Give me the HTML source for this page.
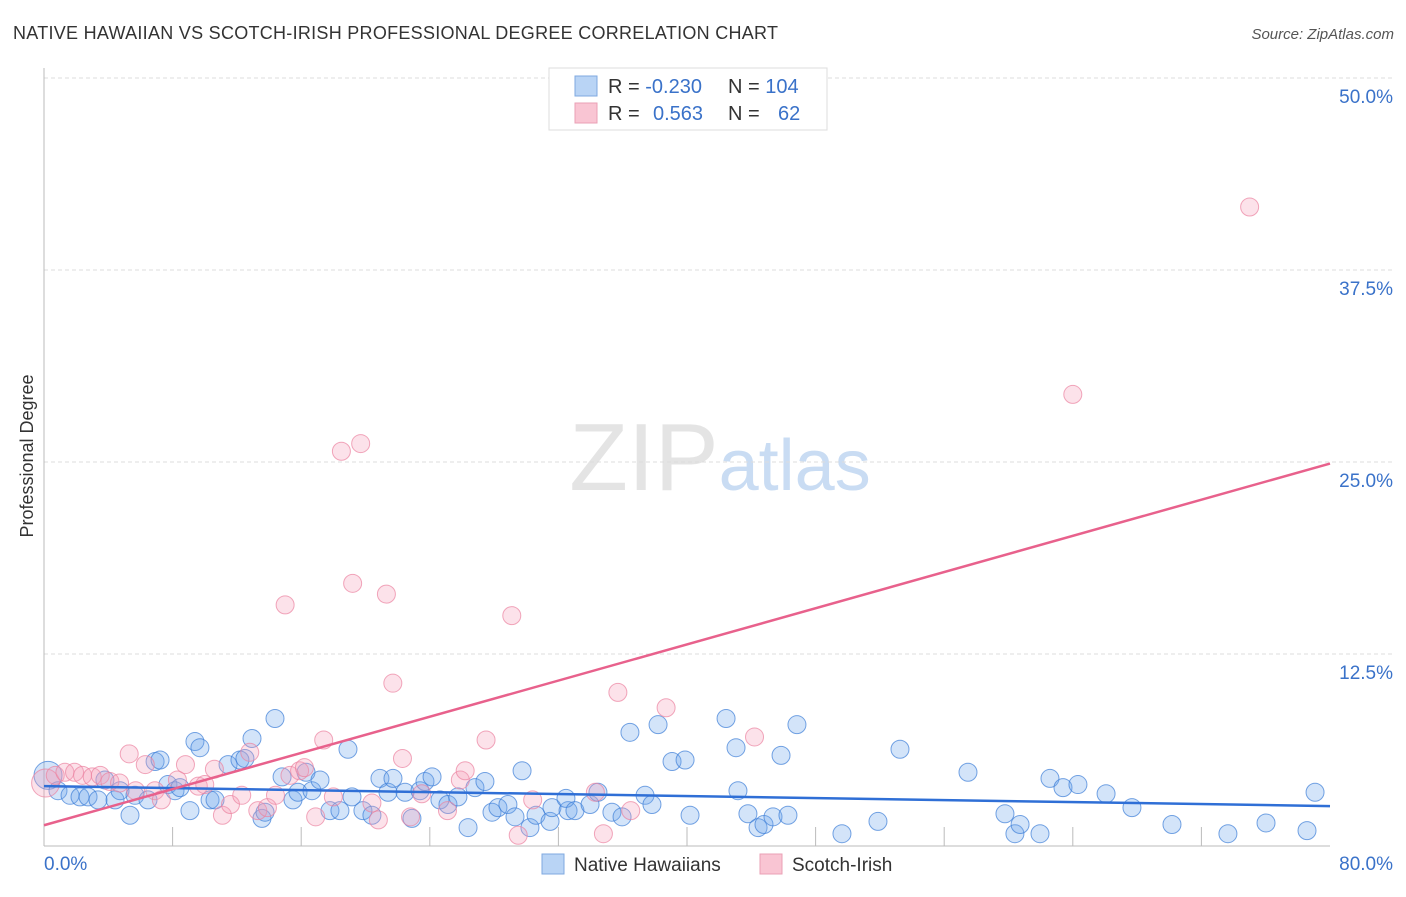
<!DOCTYPE html>
<html><head><meta charset="utf-8"><style>
body{margin:0;background:#fff;font-family:"Liberation Sans",sans-serif;}
svg text{font-family:"Liberation Sans",sans-serif;}
</style></head><body>
<svg id="chart" width="1406" height="892" xmlns="http://www.w3.org/2000/svg">
<text x="13" y="39" font-size="18" fill="#333" textLength="765">NATIVE HAWAIIAN VS SCOTCH-IRISH PROFESSIONAL DEGREE CORRELATION CHART</text>
<text x="1394" y="39" font-size="15" fill="#555" text-anchor="end" font-style="italic">Source: ZipAtlas.com</text>
<text x="720" y="490" font-size="96" text-anchor="middle" fill="#e4e4e4" font-family="Liberation Serif">ZIP<tspan fill="#c9dcf3" font-family="Liberation Sans" font-size="72">atlas</tspan></text>
<text transform="translate(33,456) rotate(-90)" font-size="18" fill="#333" text-anchor="middle">Professional Degree</text>
<g id="grid"></g><g id="marks"></g>
<g>
<rect x="549" y="68" width="278" height="62" fill="#fff" stroke="#ddd"/>
<rect x="575" y="76" width="22" height="20" fill="#b9d4f5" stroke="#7fa9e0"/>
<rect x="575" y="103" width="22" height="20" fill="#f9c5d3" stroke="#eaa0b6"/>
<text x="608" y="93" font-size="20" fill="#333">R = <tspan fill="#3a72c9">-0.230</tspan><tspan x="728">N = </tspan><tspan fill="#3a72c9">104</tspan></text>
<text x="608" y="120" font-size="20" fill="#333">R = <tspan x="653" fill="#3a72c9">0.563</tspan><tspan x="728">N = </tspan><tspan x="778" fill="#3a72c9">62</tspan></text>
</g>
<g>
<rect x="542" y="854" width="22" height="20" fill="#b9d4f5" stroke="#7fa9e0"/>
<text x="574" y="871" font-size="19" fill="#333">Native Hawaiians</text>
<rect x="760" y="854" width="22" height="20" fill="#f9c5d3" stroke="#eaa0b6"/>
<text x="792" y="871" font-size="19" fill="#333">Scotch-Irish</text>
</g>
</svg>
<script>
const yTicks=[12.5,25,37.5,50];
const yTickLabels=["12.5%","25.0%","37.5%","50.0%"];
const xTickLabels=["0.0%","80.0%"];
const blueX=[0.25,0.87,1.62,2.24,2.74,3.36,3.79,4.42,4.73,5.35,5.66,6.47,6.91,7.22,7.71,8.15,8.46,9.08,9.39,9.70,10.33,10.64,11.45,12.19,12.50,12.94,13.56,13.75,14.37,14.81,15.49,15.80,16.30,16.67,17.17,17.79,18.41,18.91,19.16,19.84,20.40,20.90,21.40,21.71,22.46,22.89,23.39,23.70,24.14,24.63,25.13,25.75,26.38,26.81,27.43,27.87,28.24,28.86,29.30,29.74,30.23,30.61,31.48,31.60,32.60,32.47,33.03,33.97,34.46,35.33,35.96,36.45,37.39,37.82,38.20,39.07,39.88,40.19,42.43,43.05,43.17,43.79,44.42,44.79,45.35,45.85,46.28,46.84,49.64,51.88,53.25,57.48,59.78,60.40,60.72,61.96,62.58,63.39,64.32,66.07,67.68,70.17,73.65,76.02,78.57,79.07];
const blueY=[4.6,3.6,3.3,3.2,3.2,3.0,4.3,3.0,3.6,2.0,3.3,3.0,5.5,5.6,4.0,3.6,3.8,2.3,6.8,6.4,3.0,3.0,5.3,5.6,5.7,7.0,1.8,2.2,8.3,4.5,3.0,3.5,4.8,3.6,4.3,2.3,2.3,6.3,3.2,2.3,2.0,4.4,3.5,4.4,3.5,1.8,3.6,4.2,4.5,3.0,2.7,3.2,1.2,3.8,4.2,2.2,2.5,2.7,1.9,4.9,1.2,2.0,1.6,2.5,2.3,3.1,2.3,2.7,3.5,2.2,1.9,7.4,3.3,2.7,7.9,5.5,5.6,2.0,8.3,6.4,3.6,2.1,1.2,1.4,1.9,5.9,2.0,7.9,0.8,1.6,6.3,4.8,2.1,0.8,1.4,0.8,4.4,3.8,4.0,3.4,2.5,1.4,0.8,1.5,1.0,3.5];
const pinkX=[0.1,0.7,1.3,1.9,2.4,3.0,3.5,4.1,4.7,5.3,5.7,6.3,6.9,7.3,8.3,8.8,9.6,10.0,10.6,11.1,11.6,12.3,12.8,13.3,13.9,14.4,15.0,15.3,15.9,16.2,16.9,17.4,18.0,18.5,19.2,19.7,20.4,20.8,21.3,21.7,22.3,22.8,23.5,25.1,25.9,26.2,27.5,29.1,29.5,30.4,34.3,34.8,35.7,36.5,38.7,44.2,64.0,75.0];
const pinkY=[4.1,4.6,4.8,4.8,4.6,4.5,4.6,4.2,4.1,6.0,3.6,5.3,3.6,3.0,4.3,5.3,3.9,4.0,5.0,2.0,2.7,3.3,6.1,2.3,2.5,3.3,15.7,4.6,4.9,5.1,1.9,6.9,3.2,25.7,17.1,26.2,2.8,1.7,16.4,10.6,5.7,1.9,3.4,2.3,4.3,4.9,6.9,15.0,0.7,3.0,3.5,0.8,10.0,2.3,9.0,7.1,29.4,41.6];
const blueTrend=[3.9,2.6];
const pinkTrend=[1.35,24.9];
const NS="http://www.w3.org/2000/svg";
function sx(v){return 44+v*16.075;}
function sy(v){return 846-v*15.36;}
function mk(tag,attrs,parent){const e=document.createElementNS(NS,tag);for(const k in attrs)e.setAttribute(k,attrs[k]);parent.appendChild(e);return e;}
const grid=document.getElementById('grid');
const marks=document.getElementById('marks');
yTicks.forEach((t,i)=>{
  const l=mk('line',{x1:44,x2:1392,y1:sy(t),y2:sy(t),stroke:'#ddd','stroke-dasharray':'4,3'},grid);
  
  
  const tx=mk('text',{x:1393,y:sy(t)+25,'font-size':19,fill:'#3a72c9','text-anchor':'end'},grid);
  tx.textContent=yTickLabels[i];
  
  
});
const ya=mk('line',{x1:44,x2:44,y1:68,y2:846,stroke:'#bbb'},grid);


const xa=mk('line',{x1:44,x2:1330,y1:846,y2:846,stroke:'#bbb'},grid);


for(let k=1;k<=9;k++){
  const t=mk('line',{x1:sx(k*8),x2:sx(k*8),y1:827,y2:846,stroke:'#bbb'},grid);
  
  
}
[[0,'start',44],[80,'end',1393]].forEach((d,i)=>{
  const tx=mk('text',{x:d[2],y:870,'font-size':19,fill:'#3a72c9','text-anchor':d[1]},grid);
  tx.textContent=xTickLabels[i];
  
  
});
blueX.forEach((x,i)=>{
  const c=mk('circle',{cx:sx(x),cy:sy(blueY[i]),r:i==0?14:9,fill:'rgba(110,165,235,0.3)',stroke:'rgba(60,125,215,0.7)','stroke-width':1},marks);
  
  
});
pinkX.forEach((x,i)=>{
  const c=mk('circle',{cx:sx(x),cy:sy(pinkY[i]),r:i==0?14:9,fill:'rgba(245,160,185,0.3)',stroke:'rgba(235,130,160,0.7)','stroke-width':1},marks);
  
  
});
const bl=mk('line',{x1:sx(0),x2:sx(80),y1:sy(blueTrend[0]),y2:sy(blueTrend[1]),stroke:'#2f6fd6','stroke-width':2.5},marks);


const pl=mk('line',{x1:sx(0),x2:sx(80),y1:sy(pinkTrend[0]),y2:sy(pinkTrend[1]),stroke:'#e8618c','stroke-width':2.5},marks);


</script>
</body></html>
